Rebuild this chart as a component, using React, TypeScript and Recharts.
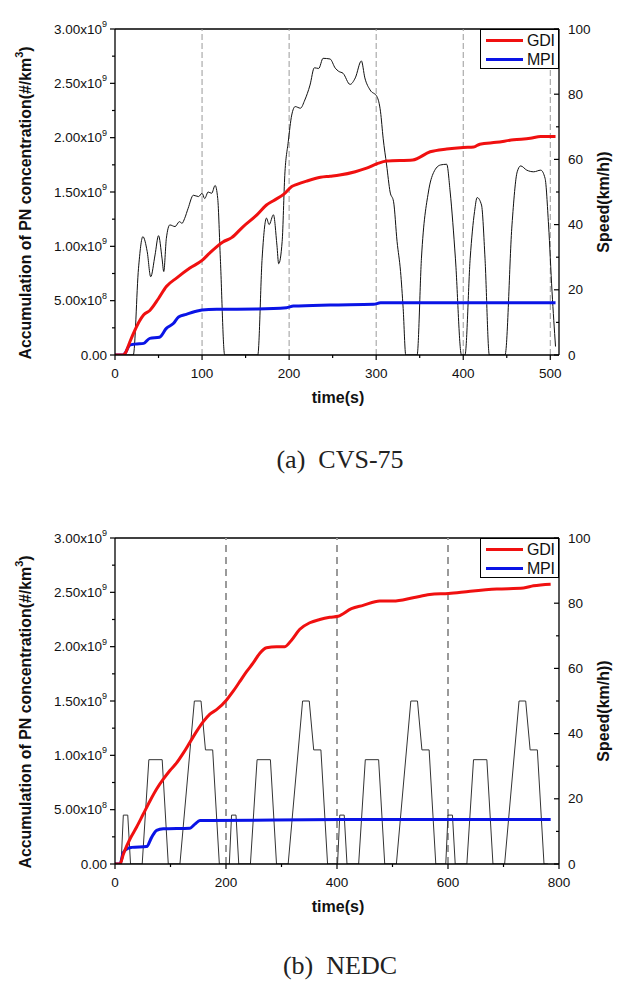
import React from "react"
import { ComposedChart, Line, XAxis, YAxis, ReferenceLine, Legend } from "recharts"

const FONT = "'Liberation Sans', Arial, sans-serif"

// left axis (PN accumulation) and right axis (speed) ticks
const pnTicks = [0, 0.25e9, 0.5e9, 0.75e9, 1e9, 1.25e9, 1.5e9, 1.75e9, 2e9, 2.25e9, 2.5e9, 2.75e9, 3e9]
const pnLabelTicks = [0, 0.5e9, 1e9, 1.5e9, 2e9, 2.5e9, 3e9]
const speedTicks = [0, 10, 20, 30, 40, 50, 60, 70, 80, 90, 100]
const speedLabelTicks = [0, 20, 40, 60, 80, 100]

// CVS-75 panel
const cvsTimeTicks = [0, 50, 100, 150, 200, 250, 300, 350, 400, 450, 500]
const cvsTimeLabels = [0, 100, 200, 300, 400, 500]
const cvsGrid = [100, 200, 300, 400, 500]

const cvsGdi: [number, number][] = [
  [0, 0], [9, 0], [12, 0.02e9], [17, 0.12e9], [23, 0.23e9], [28, 0.31e9], [33, 0.37e9], [40, 0.41e9],
  [50, 0.52e9], [59, 0.63e9], [71, 0.71e9], [86, 0.8e9], [100, 0.87e9], [109, 0.94e9], [124, 1.04e9],
  [134, 1.08e9], [147, 1.18e9], [163, 1.29e9], [174, 1.38e9], [182, 1.42e9], [194, 1.48e9], [203, 1.55e9],
  [209, 1.57e9], [220, 1.6e9], [236, 1.635e9], [247, 1.645e9], [258, 1.656e9], [276, 1.687e9], [289, 1.72e9],
  [301, 1.76e9], [312, 1.785e9], [342, 1.795e9], [362, 1.87e9], [381, 1.896e9], [400, 1.91e9], [412, 1.914e9],
  [419, 1.94e9], [438, 1.957e9], [458, 1.98e9], [477, 1.994e9], [489, 2.01e9], [506, 2.01e9],
]

const cvsMpi: [number, number][] = [
  [0, 0], [9, 0], [11.5, 0.015e9], [17, 0.09e9], [23, 0.1e9], [33, 0.107e9], [40, 0.153e9], [51, 0.163e9],
  [59, 0.245e9], [67, 0.29e9], [73, 0.35e9], [82, 0.374e9], [92, 0.4e9], [100, 0.414e9], [117, 0.42e9],
  [163, 0.423e9], [197, 0.435e9], [205, 0.45e9], [247, 0.46e9], [297, 0.466e9], [305, 0.48e9], [506, 0.48e9],
]

const cvsSpeed: [number, number][] = [
  [0, 0], [21, 0], [27, 26.6], [32, 36.3], [37, 31.7], [41, 24], [46, 30.7], [50, 36.6], [54, 29.7],
  [56, 25.6], [59, 35.8], [63, 39.9], [69, 39.4], [74, 40.9], [77, 40.4], [80, 41.9], [84, 45], [90, 49],
  [96, 48.6], [100, 49.6], [103, 48], [107, 50], [111, 49.6], [115, 52], [118, 48], [121, 29.7], [126, 0],
  [164, 0], [169, 29.7], [174, 42], [177, 40], [182, 43], [186, 33.7], [188, 28], [192, 34.8], [195, 55],
  [199, 65.4], [203, 73.6], [207, 76.2], [213, 75.7], [218, 78.2], [224, 82.8], [229, 88.1], [234, 87.9],
  [239, 91], [247, 90.8], [253, 88], [257, 87], [262, 86.4], [270, 83], [276, 85], [283, 90.2], [287, 85],
  [293, 81.3], [301, 79.2], [305, 74.6], [308, 66.5], [312, 58.3], [316, 50], [320, 47], [324, 34.8],
  [328, 25.6], [331, 14.3], [334, 0], [347, 0], [352, 29.7], [360, 50], [366, 56], [374, 58.3], [381, 58.5],
  [385, 50], [391, 29.7], [398, 0], [402, 0], [408, 29.7], [413, 44], [416, 48.3], [421, 46], [425, 29.7],
  [430, 0], [448, 0], [456, 39.9], [462, 56.2], [466, 58], [473, 56.7], [481, 56.2], [489, 56.7],
  [494, 54.2], [498, 39.9], [502, 19.4], [506, 2.6],
]

// NEDC panel
const nedcTimeTicks = [0, 100, 200, 300, 400, 500, 600, 700, 800]
const nedcTimeLabels = [0, 200, 400, 600, 800]
const nedcGrid = [200, 400, 600]

const nedcGdi: [number, number][] = [
  [0, 0], [9, 0], [15, 0.09e9], [27, 0.23e9], [39, 0.34e9], [51, 0.46e9], [63, 0.58e9], [75, 0.69e9],
  [87, 0.78e9], [99, 0.86e9], [111, 0.93e9], [123, 1.02e9], [135, 1.12e9], [147, 1.22e9], [159, 1.31e9],
  [171, 1.38e9], [183, 1.42e9], [201, 1.51e9], [213, 1.59e9], [225, 1.68e9], [237, 1.77e9], [249, 1.85e9],
  [261, 1.94e9], [273, 1.99e9], [291, 2.0e9], [306, 2.0e9], [318, 2.06e9], [333, 2.16e9], [351, 2.22e9],
  [369, 2.25e9], [387, 2.27e9], [402, 2.28e9], [426, 2.35e9], [447, 2.38e9], [477, 2.42e9], [501, 2.42e9],
  [537, 2.45e9], [567, 2.48e9], [601, 2.49e9], [640, 2.51e9], [688, 2.53e9], [736, 2.54e9], [754, 2.56e9],
  [785, 2.575e9],
]

const nedcMpi: [number, number][] = [
  [0, 0], [9, 0], [15, 0.107e9], [24, 0.147e9], [30, 0.153e9], [57, 0.16e9], [66, 0.245e9], [75, 0.31e9],
  [87, 0.324e9], [135, 0.33e9], [144, 0.367e9], [153, 0.4e9], [171, 0.4e9], [405, 0.41e9], [785, 0.41e9],
]

const nedcSpeed: [number, number][] = [
  [0, 0], [11, 0], [15, 15], [23, 15], [28, 0], [49, 0], [61, 32], [85, 32], [96, 0], [117, 0], [143, 50],
  [155, 50], [163, 35], [176, 35], [188, 0], [195, 0],
  [206, 0], [210, 15], [218, 15], [223, 0], [244, 0], [256, 32], [280, 32], [291, 0], [312, 0], [338, 50],
  [350, 50], [358, 35], [371, 35], [383, 0], [390, 0],
  [401, 0], [405, 15], [413, 15], [418, 0], [439, 0], [451, 32], [475, 32], [486, 0], [507, 0], [533, 50],
  [545, 50], [553, 35], [566, 35], [578, 0], [585, 0],
  [596, 0], [600, 15], [608, 15], [613, 0], [634, 0], [646, 32], [670, 32], [681, 0], [702, 0], [728, 50],
  [740, 50], [748, 35], [761, 35], [773, 0], [780, 0],
]

const rows = (pts: [number, number][]) => pts.map(([t, v]) => ({ t, v }))

const pnLabel = (v: number) => {
  if (v === 0) return { m: "0.00", e: "" }
  if (v < 1e9) return { m: (v / 1e8).toFixed(2) + "x10", e: "8" }
  return { m: (v / 1e9).toFixed(2) + "x10", e: "9" }
}

const PnTick = (props: any) => {
  const { x, y, payload } = props
  const major = pnLabelTicks.includes(payload.value)
  const lab = pnLabel(payload.value)
  return (
    <g>
      <line x1={x} x2={x - (major ? 5 : 3)} y1={y} y2={y} stroke="#000" strokeWidth={1.2} />
      {major && (
        <text x={x - 8} y={y} textAnchor="end" dominantBaseline="central" fontSize={13.5} fontFamily={FONT} fill="#111">
          {lab.m}
          {lab.e && (
            <tspan dy={-5} fontSize={9}>
              {lab.e}
            </tspan>
          )}
        </text>
      )}
    </g>
  )
}

const SpeedTick = (props: any) => {
  const { x, y, payload } = props
  const major = speedLabelTicks.includes(payload.value)
  return (
    <g>
      <line x1={x} x2={x - (major ? 5 : 3)} y1={y} y2={y} stroke="#000" strokeWidth={1.2} />
      {major && (
        <text x={x + 9} y={y} textAnchor="start" dominantBaseline="central" fontSize={13.5} fontFamily={FONT} fill="#111">
          {payload.value}
        </text>
      )}
    </g>
  )
}

const makeTimeTick = (labels: number[]) => (props: any) => {
  const { x, y, payload } = props
  const major = labels.includes(payload.value)
  return (
    <g>
      <line x1={x} x2={x} y1={y} y2={y + (major ? 5 : 3)} stroke="#000" strokeWidth={1.2} />
      {major && (
        <text x={x} y={y + 18} textAnchor="middle" dominantBaseline="central" fontSize={13.5} fontFamily={FONT} fill="#111">
          {payload.value}
        </text>
      )}
    </g>
  )
}

const LegendBox = (props: any) => {
  const items = (props.payload || []).filter((p: any) => p.type !== "none")
  return (
    <div
      style={{
        width: 79,
        height: 40,
        boxSizing: "border-box",
        border: "1.3px solid #000",
        background: "#fff",
        fontFamily: FONT,
        fontSize: 16,
        paddingTop: 1,
      }}
    >
      {items.map((it: any) => (
        <div key={it.value} style={{ display: "flex", alignItems: "center", height: 19, lineHeight: "19px" }}>
          <span style={{ display: "inline-block", width: 37, height: 3, background: it.color, marginLeft: 5, marginRight: 4 }} />
          <span style={{ color: "#111", letterSpacing: -0.3 }}>{it.value}</span>
        </div>
      ))}
    </div>
  )
}

interface PanelProps {
  top: number
  marginTop: number
  domainMax: number
  timeTicks: number[]
  timeLabels: number[]
  grid: number[]
  gridDash: string
  gridWidth: number
  gdi: [number, number][]
  mpi: [number, number][]
  speed: [number, number][]
  speedCurve: "monotone" | "linear"
  speedColor: string
}

function Panel(p: PanelProps) {
  const H = 420
  return (
    <div style={{ position: "absolute", left: 0, top: p.top }}>
      <ComposedChart width={622} height={H} margin={{ top: p.marginTop, right: 0, left: 0, bottom: H - p.marginTop - 326 - 30 }}>
        <XAxis
          xAxisId="t"
          dataKey="t"
          type="number"
          domain={[0, p.domainMax]}
          ticks={p.timeTicks}
          interval={0}
          allowDataOverflow
          height={30}
          tickSize={0}
          tickMargin={0}
          tickLine={false}
          axisLine={{ stroke: "#000", strokeWidth: 1.3 }}
          tick={makeTimeTick(p.timeLabels)}
        />
        <YAxis
          yAxisId="pn"
          type="number"
          domain={[0, 3e9]}
          ticks={pnTicks}
          interval={0}
          allowDataOverflow
          width={115}
          tickSize={0}
          tickMargin={0}
          tickLine={false}
          axisLine={{ stroke: "#000", strokeWidth: 1.3 }}
          tick={PnTick}
        />
        <YAxis
          yAxisId="spd"
          orientation="right"
          type="number"
          domain={[0, 100]}
          ticks={speedTicks}
          interval={0}
          allowDataOverflow
          width={63}
          tickSize={0}
          tickMargin={0}
          tickLine={false}
          axisLine={{ stroke: "#000", strokeWidth: 1.3 }}
          tick={SpeedTick}
        />
        <ReferenceLine xAxisId="t" yAxisId="pn" y={3e9} stroke="#000" strokeWidth={1.3} />
        {p.grid.map((g) => (
          <ReferenceLine
            key={g}
            xAxisId="t"
            yAxisId="pn"
            x={g}
            stroke="#9a9a9a"
            strokeWidth={p.gridWidth}
            strokeDasharray={p.gridDash}
          />
        ))}
        <Line
          xAxisId="t"
          yAxisId="spd"
          data={rows(p.speed)}
          dataKey="v"
          name="Speed"
          type={p.speedCurve}
          dot={false}
          stroke={p.speedColor}
          strokeWidth={1}
          legendType="none"
          isAnimationActive={false}
        />
        <Line
          xAxisId="t"
          yAxisId="pn"
          data={rows(p.mpi)}
          dataKey="v"
          name="MPI"
          type="monotone"
          dot={false}
          stroke="#0a14e6"
          strokeWidth={3}
          isAnimationActive={false}
        />
        <Line
          xAxisId="t"
          yAxisId="pn"
          data={rows(p.gdi)}
          dataKey="v"
          name="GDI"
          type="monotone"
          dot={false}
          stroke="#f01010"
          strokeWidth={3}
          isAnimationActive={false}
        />
        <Legend
          layout="horizontal"
          verticalAlign="middle"
          align="center"
          content={LegendBox}
          payload={[
            { value: "GDI", type: "line", color: "#f01010" },
            { value: "MPI", type: "line", color: "#0a14e6" },
          ]}
          wrapperStyle={{ left: 480, top: p.marginTop, width: 79, height: 40 }}
        />
      </ComposedChart>
    </div>
  )
}

function Titles({ top }: { top: number }) {
  // axis titles drawn over the chart, page coordinates offset by panel top
  return (
    <svg width={622} height={430} style={{ position: "absolute", left: 0, top, pointerEvents: "none" }}>
      <text
        transform={`translate(25, ${174 + 29}) rotate(-90)`}
        textAnchor="middle"
        dominantBaseline="central"
        fontFamily={FONT}
        fontWeight="bold"
        fontSize={16}
        fill="#111"
        textLength={313}
        lengthAdjust="spacingAndGlyphs"
      >
        Accumulation of PN concentration(#/km
        <tspan dy={-6} fontSize={11}>
          3
        </tspan>
        <tspan dy={6}>)</tspan>
      </text>
      <text
        transform={`translate(603, ${173 + 29}) rotate(-90)`}
        textAnchor="middle"
        dominantBaseline="central"
        fontFamily={FONT}
        fontWeight="bold"
        fontSize={16}
        fill="#111"
      >
        Speed(km/h))
      </text>
      <text x={338} y={397} textAnchor="middle" dominantBaseline="central" fontFamily={FONT} fontWeight="bold" fontSize={16} fill="#111">
        time(s)
      </text>
    </svg>
  )
}

const captionStyle: React.CSSProperties = {
  position: "absolute",
  left: 0,
  width: 680,
  textAlign: "center",
  fontFamily: "'Liberation Serif', 'DejaVu Serif', serif",
  fontSize: 26,
  whiteSpace: "pre",
  color: "#222",
}

export default function App() {
  return (
    <div style={{ position: "absolute", left: 0, top: 0, width: 622, height: 983, background: "#fff", overflow: "hidden" }}>
      <Panel
        top={0}
        marginTop={29}
        domainMax={510}
        timeTicks={cvsTimeTicks}
        timeLabels={cvsTimeLabels}
        grid={cvsGrid}
        gridDash="6 3"
        gridWidth={1}
        gdi={cvsGdi}
        mpi={cvsMpi}
        speed={cvsSpeed}
        speedCurve="monotone"
        speedColor="#111"
      />
      <Titles top={0} />
      <div style={{ ...captionStyle, top: 445 }}>(a)  CVS-75</div>
      <Panel
        top={509}
        marginTop={29}
        domainMax={800}
        timeTicks={nedcTimeTicks}
        timeLabels={nedcTimeLabels}
        grid={nedcGrid}
        gridDash="7 5"
        gridWidth={2}
        gdi={nedcGdi}
        mpi={nedcMpi}
        speed={nedcSpeed}
        speedCurve="linear"
        speedColor="#333"
      />
      <Titles top={509} />
      <div style={{ ...captionStyle, top: 951 }}>(b)  NEDC</div>
    </div>
  )
}
